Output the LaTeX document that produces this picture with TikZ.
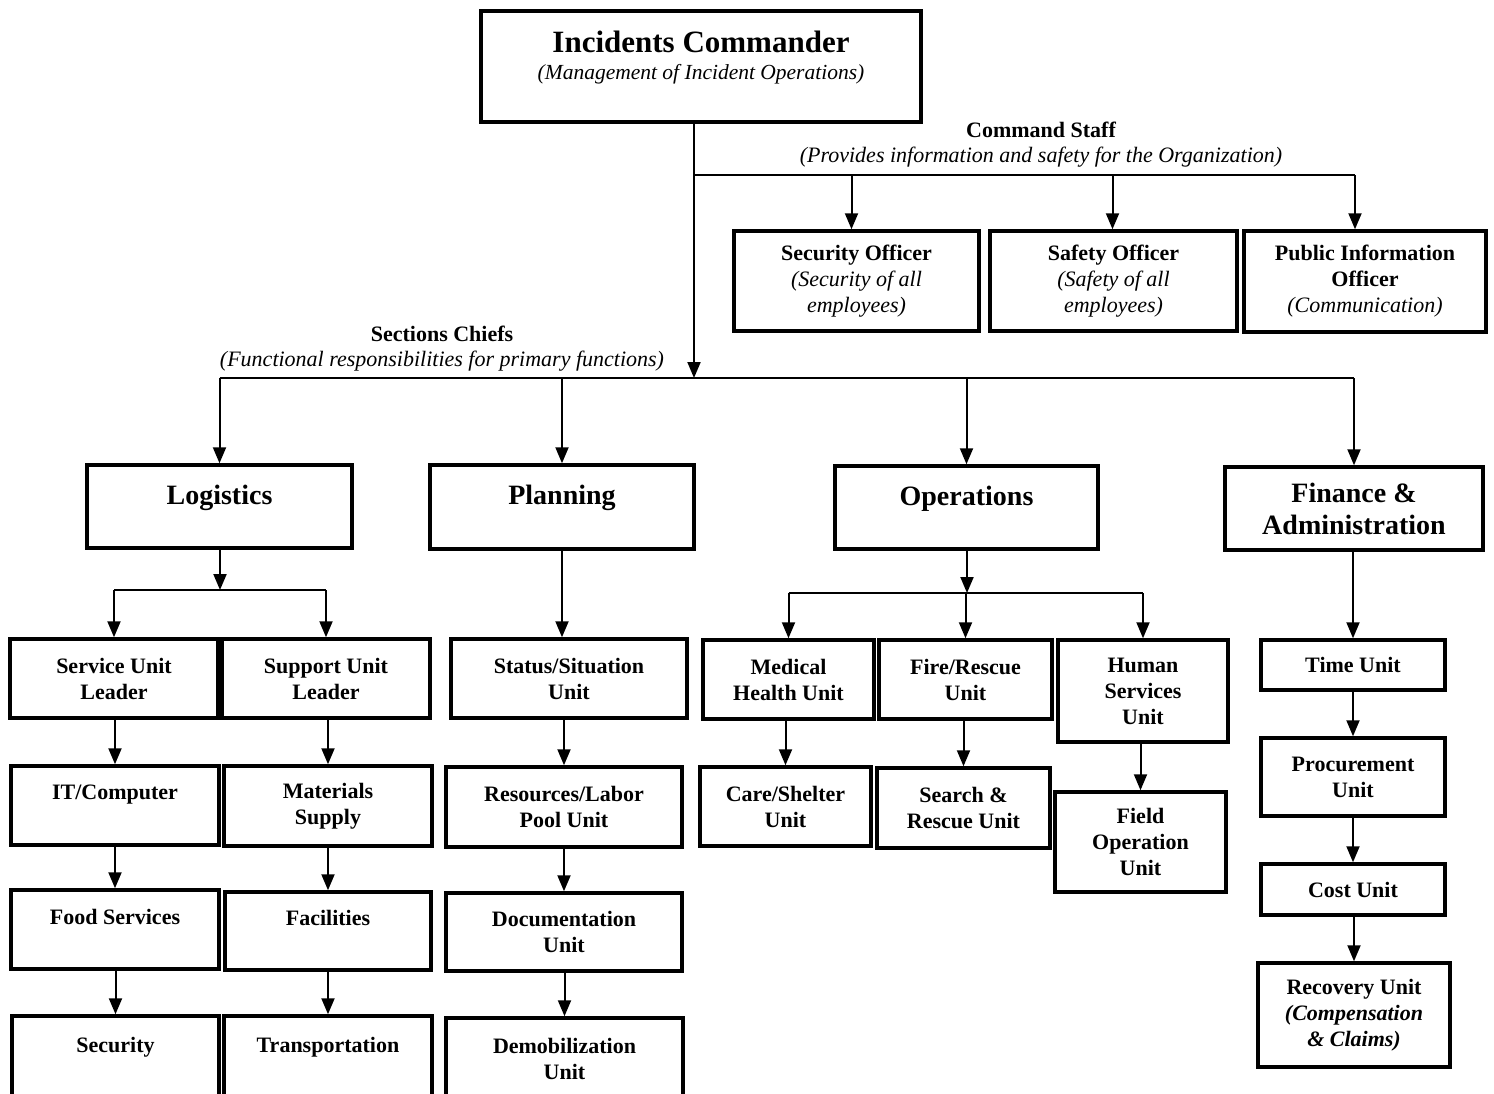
\documentclass[tikz,border=0pt]{standalone}
\usepackage{fontspec}
\setmainfont{Liberation Serif}
\usetikzlibrary{arrows.meta}
\newcommand{\subtext}[1]{{\mdseries\itshape #1}}

\begin{document}
\begin{tikzpicture}[x=1pt, y=-1pt,
		box/.style={draw, line width=3.5pt, align=center, inner sep=0pt, font=\fontsize{22}{26}\selectfont\bfseries},
		head/.style={box, font=\fontsize{28}{32}\selectfont\bfseries},
		lbl/.style={align=center, inner sep=0pt, font=\fontsize{22}{25}\selectfont\bfseries},
		conn/.style={line width=2pt},
		arr/.style={conn, -{Triangle[length=16pt, width=13pt]}}]
					\useasboundingbox (0,0) rectangle (1494,1093);
					% top
					\node[box, minimum width=440, minimum height=111, font=\fontsize{31}{37}\selectfont\bfseries] (ic) at (701,66.5) {Incidents Commander\\[-10pt]{\fontsize{21.5}{25}\selectfont\subtext{(Management of Incident Operations)}}\\[-14pt]~};
					\node[lbl] (cstaff) at (1041,145) {Command Staff\\\subtext{(Provides information and safety for the Organization)}};
					\node[lbl] (schief) at (442,349) {Sections Chiefs\\\subtext{(Functional responsibilities for primary functions)}};
					% command staff
					\node[box, minimum width=245, minimum height=100] (so) at (856.5,281) {Security Officer\\\subtext{(Security of all}\\\subtext{employees)}};
					\node[box, minimum width=247, minimum height=100] (sfo) at (1113.5,281) {Safety Officer\\\subtext{(Safety of all}\\\subtext{employees)}};
					\node[box, minimum width=242, minimum height=101] (pio) at (1365,281.5) {Public Information\\Officer\\\subtext{(Communication)}};
					% sections
					\node[head, minimum width=265, minimum height=83] (lg) at (219.5,506.5) {Logistics\\[-8pt]~};
					\node[head, minimum width=264, minimum height=84] (pl) at (562,507) {Planning\\[-8pt]~};
					\node[head, minimum width=263, minimum height=83] (op) at (966.5,507.5) {Operations\\[-8pt]~};
					\node[head, minimum width=258, minimum height=83] (fa) at (1354,508.5) {Finance \&\\Administration};
					% logistics
					\node[box, minimum width=208, minimum height=79] (sul) at (114,678.5) {Service Unit\\Leader};
					\node[box, minimum width=208, minimum height=79] (pul) at (326,678.5) {Support Unit\\Leader};
					\node[box, minimum width=208, minimum height=79] (itc) at (115,805.5) {IT/Computer\\~};
					\node[box, minimum width=208, minimum height=80] (mat) at (328,806) {Materials\\Supply};
					\node[box, minimum width=208, minimum height=79] (fds) at (115,929.5) {Food Services\\~};
					\node[box, minimum width=206, minimum height=78] (fac) at (328,931) {Facilities\\~};
					\node[box, minimum width=207, minimum height=84] (sec) at (115.5,1058) {Security\\~};
					\node[box, minimum width=208, minimum height=84] (trn) at (328,1058) {Transportation\\~};
					% planning
					\node[box, minimum width=236, minimum height=79] (ssu) at (569,678.5) {Status/Situation\\Unit};
					\node[box, minimum width=236, minimum height=80] (rlp) at (564,807) {Resources/Labor\\Pool Unit};
					\node[box, minimum width=236, minimum height=78] (doc) at (564,932) {Documentation\\Unit};
					\node[box, minimum width=237, minimum height=82] (dem) at (564.5,1059) {Demobilization\\Unit};
					% operations
					\node[box, minimum width=171, minimum height=79] (mhu) at (788.5,679.5) {Medical\\Health Unit};
					\node[box, minimum width=173, minimum height=79] (fru) at (965.5,679.5) {Fire/Rescue\\Unit};
					\node[box, minimum width=170, minimum height=102] (hsu) at (1143,691) {Human\\Services\\Unit};
					\node[box, minimum width=171, minimum height=79] (csu) at (785.5,806.5) {Care/Shelter\\Unit};
					\node[box, minimum width=173, minimum height=80] (sru) at (963.5,808) {Search \&\\Rescue Unit};
					\node[box, minimum width=171, minimum height=100] (fou) at (1140.5,842) {Field\\Operation\\Unit};
					% finance
					\node[box, minimum width=184, minimum height=50] (tim) at (1353,665) {Time Unit};
					\node[box, minimum width=184, minimum height=78] (pro) at (1353,777) {Procurement\\Unit};
					\node[box, minimum width=184, minimum height=51] (cst) at (1353,889.5) {Cost Unit};
					\node[box, minimum width=192, minimum height=104] (rec) at (1354,1015) {Recovery Unit\\{\itshape (Compensation}\\{\itshape \& Claims)}};
					% buses
					\coordinate (csbus) at (694,175);
					\coordinate (scbus) at (694,378);
					\coordinate (lgbus) at (220,590);
					\coordinate (opbus) at (967,593);
					\draw[arr] (ic.south -| scbus) -- (scbus);
					\draw[conn] (csbus) -- ([xshift=-10pt]csbus -| pio);
					\draw[arr] ([xshift=-5pt]csbus -| so) -- ([xshift=-5pt]so.north);
					\draw[arr] ([xshift=-1pt]csbus -| sfo) -- ([xshift=-1pt]sfo.north);
					\draw[arr] ([xshift=-10pt]csbus -| pio) -- ([xshift=-10pt]pio.north);
					\draw[conn] (scbus -| lg) -- (scbus -| fa);
					\foreach \n in {lg,pl,op,fa}
						\draw[arr] (scbus -| \n) -- (\n.north);
					\draw[arr] (lg.south -| lgbus) -- (lgbus);
					\draw[conn] (lgbus -| sul) -- (lgbus -| pul);
					\foreach \n in {sul,pul}
						\draw[arr] (lgbus -| \n) -- (\n.north);
					\draw[arr] (op.south -| opbus) -- (opbus);
					\draw[conn] (opbus -| mhu) -- (opbus -| hsu);
					\foreach \n in {mhu,fru,hsu}
						\draw[arr] (opbus -| \n) -- (\n.north);
					% chains
					\draw[arr] (pl.south) -- (pl.south |- ssu.north);
					\foreach \a/\b in {sul/itc, itc/fds, fds/sec, pul/mat, mat/fac, fac/trn, ssu/rlp, rlp/doc, doc/dem, mhu/csu, fru/sru, hsu/fou, fa/tim, tim/pro, pro/cst, cst/rec}
						\draw[arr] (\b.north |- \a.south) -- (\b.north);
			\end{tikzpicture}
\end{document}
